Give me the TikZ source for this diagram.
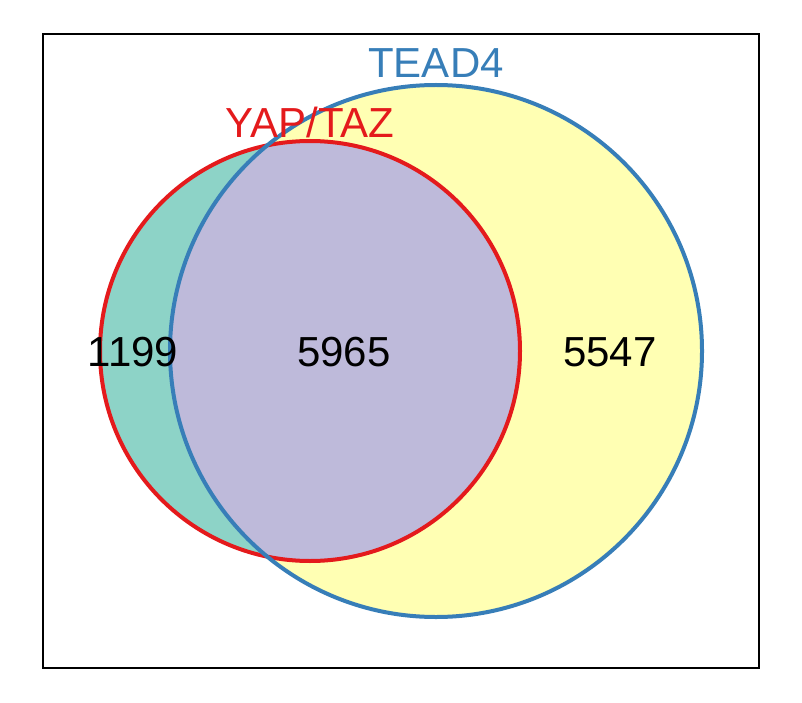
\documentclass[tikz,border=0pt]{standalone}
\usepackage{fontspec}
\setmainfont{Liberation Sans}
\definecolor{vteal}{HTML}{8DD3C7}
\definecolor{vyellow}{HTML}{FFFFB3}
\definecolor{vlilac}{HTML}{BEBADA}
\definecolor{vred}{HTML}{E41A1C}
\definecolor{vblue}{HTML}{377EB8}
\begin{document}
\begin{tikzpicture}[x=1pt, y=-1pt, line width=4pt,
    count/.style={font=\fontsize{42}{50}\selectfont, inner sep=0pt}]
    \useasboundingbox (0,0) rectangle (802,703);
    % frame
    \draw[black, line width=1.2pt] (43,34) rectangle (759,668);

    % fills of the two sets and their overlap
    \fill[vyellow] (436,351) circle (266);
    \fill[vteal] (310,351) circle (210);
    \begin{scope}
      \clip (436,351) circle (266);
      \fill[vlilac] (310,351) circle (210);
    \end{scope}

    % outlines
    \draw[vred] (310,351) circle (210);
    \draw[vblue] (436,351) circle (266);

    % set names
    \node[count, text=vblue] (tead) at (436,63) {TEAD4};
    \node[count, text=vred] (yap) at (310,122) {YAP/TAZ};

    % counts
    \node[count] (only yap) at (133,352) {1199};
    \node[count] (both) at (344,352) {5965};
    \node[count] (only tead) at (610,352) {5547};
\end{tikzpicture}
\end{document}
